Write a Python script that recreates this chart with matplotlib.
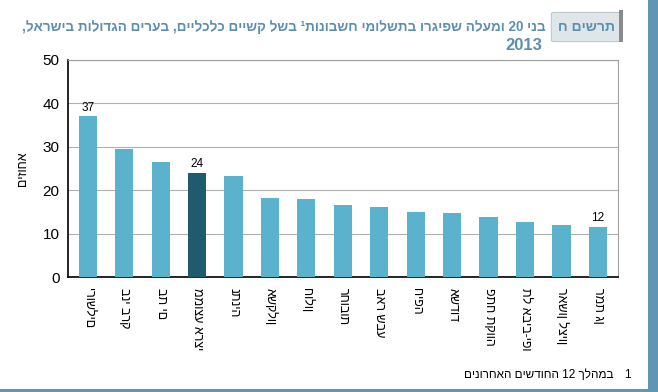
import matplotlib.pyplot as plt
from matplotlib.patches import FancyBboxPatch, Rectangle

plt.rcParams['font.family'] = ['Liberation Sans', 'DejaVu Sans']

# data
cities = ['ירושלים', 'בני ברק', 'בת ים', 'ממוצע ארצי', 'נתניה', 'אשקלון', 'חולון',
          'רחובות', 'באר שבע', 'חיפה', 'אשדוד', 'פתח תקווה', 'תל אביב-יפו',
          'ראשון לציון', 'רמת גן']
values = [37, 29.5, 26.6, 24, 23.2, 18.3, 18.1, 16.6, 16.1, 14.9, 14.7, 13.8, 12.8, 12.0, 11.6]
labelled = {0: '37', 3: '24', 14: '12'}
highlight = 'ממוצע ארצי'


def rtl(s):
    # reverse hebrew for display, keep digit runs in order
    out = s[::-1]
    res, run = '', ''
    for ch in out:
        if ch.isdigit():
            run += ch
        else:
            res += run[::-1] + ch
            run = ''
    return res + run[::-1]


fig = plt.figure(figsize=(6.58, 3.92), dpi=100)
ax = fig.add_axes([0.103, 0.293, 0.836, 0.554])

colors = ['#1f5a6e' if c == highlight else '#5ab2cc' for c in cities]
x = range(len(cities))
ax.bar(x, values, width=0.5, color=colors, zorder=3)
for i, t in labelled.items():
    ax.text(i, values[i] + 0.6, t, ha='center', va='bottom', fontsize=8.5)

ax.set_ylim(0, 50)
ax.set_xlim(-0.55, len(cities) - 0.45)
ax.set_yticks(range(0, 51, 10))
ax.yaxis.grid(True, color='#b0b0b0', linewidth=0.8, zorder=0)
ax.set_xticks(list(x))
ax.set_xticklabels(cities, rotation=270, fontsize=9, va='top', ha='center')
ax.tick_params(axis='both', length=0, labelsize=11)
ax.tick_params(axis='x', labelsize=9, pad=8)
ax.tick_params(axis='y', pad=6)
for s in ['top', 'right']:
    ax.spines[s].set_color('#a0a0a0')
for s in ['left', 'bottom']:
    ax.spines[s].set_color('black')
    ax.spines[s].set_linewidth(1.2)
ax.set_ylabel(rtl('אחוזים'), fontsize=9, labelpad=10)

# header
title_col = '#5b8fb0'
title = fig.text(546 / 658, 1 - 27 / 392,
                 rtl('בני 20 ומעלה שפיגרו בתשלומי חשבונות¹ בשל קשיים כלכליים, בערים הגדולות בישראל,'),
                 ha='right', va='center', fontsize=12, fontweight='bold', color=title_col)
# shrink title to fit between x=20 and x=546
r = fig.canvas.get_renderer()
w = title.get_window_extent(r).width
if w > 524:
    title.set_fontsize(12 * 524 / w)
fig.text(542 / 658, 1 - 46 / 392, '2013', ha='right', va='center', fontsize=12,
         fontweight='bold', color=title_col)
box = FancyBboxPatch((554 / 658, 1 - 40 / 392), 64 / 658, 26 / 392,
                     boxstyle='round,pad=0.004', transform=fig.transFigure,
                     facecolor='#dfe6ea', edgecolor='#c0c8cc', linewidth=0.8)
fig.patches.append(box)
fig.patches.append(Rectangle((619 / 658, 1 - 42 / 392), 4 / 658, 32 / 392,
                             transform=fig.transFigure, facecolor='#8a8a8a', edgecolor='none'))
fig.text(586 / 658, 1 - 27 / 392, rtl('תרשים ח'), ha='center', va='center', fontsize=10,
         fontweight='bold', color=title_col)

# right strip and bottom line
fig.patches.append(Rectangle((648 / 658, 0), 10 / 658, 1, transform=fig.transFigure,
                             facecolor='#6096b4', edgecolor='none'))
fig.patches.append(Rectangle((0, 0), 1, 3 / 392, transform=fig.transFigure,
                             facecolor='#6096b4', edgecolor='none'))

# footnote
fig.text(627 / 658, 1 - 375 / 392, '1', ha='center', va='center', fontsize=8.5)
fig.text(613 / 658, 1 - 375 / 392, rtl('במהלך 12 החודשים האחרונים'), ha='right', va='center', fontsize=8.5)

fig.savefig('out.png', dpi=100)
